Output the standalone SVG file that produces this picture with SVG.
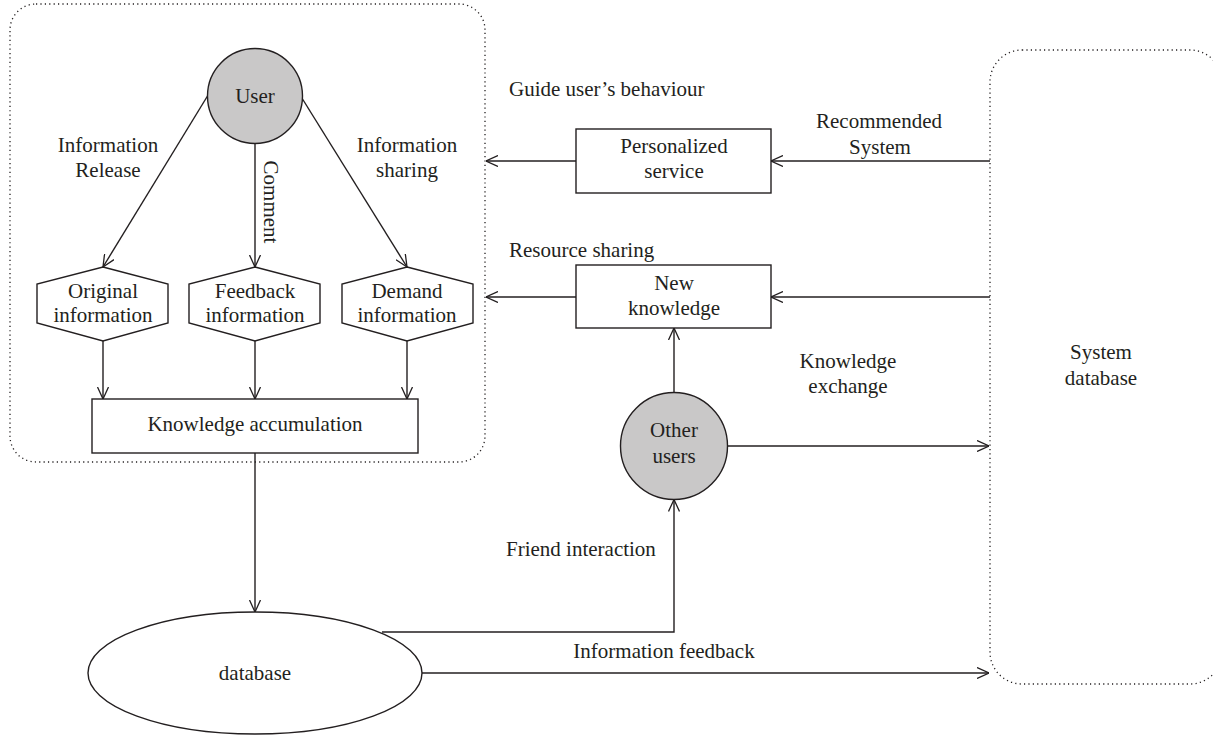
<svg xmlns="http://www.w3.org/2000/svg" width="1213" height="737" viewBox="0 0 1213 737">
  <style>
    text { font-family: "Liberation Serif", "Times New Roman", serif; font-size: 21px; fill: #231f20; text-anchor: middle; }
    .shape { fill: #ffffff; stroke: #231f20; stroke-width: 1.4; }
    .person { fill: #c9c8c8; stroke: #231f20; stroke-width: 1.4; }
    .zone { fill: none; stroke: #231f20; stroke-width: 1.3; stroke-dasharray: 1.2 3.2; }
    .link { fill: none; stroke: #231f20; stroke-width: 1.4; marker-end: url(#arrow); }
    .start { text-anchor: start; }
  </style>
  <defs>
    <marker id="arrow" viewBox="0 0 12 12" refX="12" refY="6" markerWidth="12" markerHeight="12" markerUnits="userSpaceOnUse" orient="auto">
      <path d="M0,0.5 L12,6 L0,11.5" fill="none" stroke="#231f20" stroke-width="1.3"/>
    </marker>
  </defs>

  <rect width="1213" height="737" fill="#ffffff"/>

  <!-- dotted areas -->
  <g id="user-area">
    <rect class="zone" x="10" y="4" width="475" height="458" rx="26" ry="26"/>
  </g>
  <g id="system-database">
    <rect class="zone" x="990" y="50" width="232" height="634" rx="32" ry="32"/>
    <text x="1101" y="359">System</text>
    <text x="1101" y="385">database</text>
  </g>

  <!-- connectors -->
  <g id="connectors">
    <path class="link" d="M207.5,96 L103,267"/>
    <path class="link" d="M255,144 L255,267"/>
    <path class="link" d="M302.5,99 L407,267"/>
    <path class="link" d="M103,341 L103,399"/>
    <path class="link" d="M255,341 L255,399"/>
    <path class="link" d="M407,341 L407,399"/>
    <path class="link" d="M255,453 L255,612"/>
    <path class="link" d="M382,632 H674 V499.5"/>
    <path class="link" d="M422,673 H989"/>
    <path class="link" d="M674,392 V328"/>
    <path class="link" d="M727.5,446 H989"/>
    <path class="link" d="M990,297 H771"/>
    <path class="link" d="M990,161 H771"/>
    <path class="link" d="M576,161 H486"/>
    <path class="link" d="M576,297 H486"/>
  </g>

  <!-- connector labels -->
  <g id="labels">
    <text x="108" y="152">Information</text>
    <text x="108" y="177">Release</text>
    <text x="407" y="152">Information</text>
    <text x="407" y="177">sharing</text>
    <text transform="translate(264,202) rotate(90)">Comment</text>
    <text class="start" x="509" y="96">Guide user’s behaviour</text>
    <text x="879" y="128">Recommended</text>
    <text x="880" y="154">System</text>
    <text class="start" x="509" y="257">Resource sharing</text>
    <text x="848" y="368">Knowledge</text>
    <text x="848" y="393">exchange</text>
    <text class="start" x="506" y="556">Friend interaction</text>
    <text x="664" y="658">Information feedback</text>
  </g>

  <!-- nodes -->
  <g id="user">
    <circle class="person" cx="255" cy="96" r="47.5"/>
    <text x="255" y="103">User</text>
  </g>
  <g id="original-information">
    <polygon class="shape" points="103,267 168,284 168,323 103,341 37,323 37,284"/>
    <text x="103" y="298">Original</text>
    <text x="103" y="322">information</text>
  </g>
  <g id="feedback-information">
    <polygon class="shape" points="255,267 320,284 320,323 255,341 189,323 189,284"/>
    <text x="255" y="298">Feedback</text>
    <text x="255" y="322">information</text>
  </g>
  <g id="demand-information">
    <polygon class="shape" points="407,267 473,284 473,323 407,341 342,323 342,284"/>
    <text x="407" y="298">Demand</text>
    <text x="407" y="322">information</text>
  </g>
  <g id="knowledge-accumulation">
    <rect class="shape" x="92" y="399" width="326" height="54"/>
    <text x="255" y="431">Knowledge accumulation</text>
  </g>
  <g id="database">
    <ellipse class="shape" cx="255" cy="673" rx="167" ry="61"/>
    <text x="255" y="680">database</text>
  </g>
  <g id="personalized-service">
    <rect class="shape" x="576" y="129" width="195" height="64"/>
    <text x="674" y="153">Personalized</text>
    <text x="674" y="178">service</text>
  </g>
  <g id="new-knowledge">
    <rect class="shape" x="576" y="265" width="195" height="63"/>
    <text x="674" y="290">New</text>
    <text x="674" y="315">knowledge</text>
  </g>
  <g id="other-users">
    <circle class="person" cx="674" cy="446" r="53.5"/>
    <text x="674" y="437">Other</text>
    <text x="674" y="463">users</text>
  </g>
</svg>
